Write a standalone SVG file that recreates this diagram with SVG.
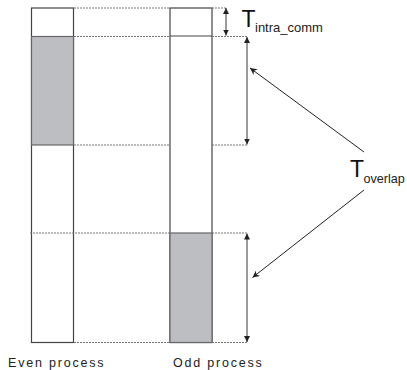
<svg xmlns="http://www.w3.org/2000/svg" width="407" height="370" viewBox="0 0 407 370">
<style>
.col{fill:#fff;stroke:#444;stroke-width:1.2}
.busy{fill:#bdbec2;stroke:#666;stroke-width:1.2}
.dot{stroke:#777;stroke-width:1;stroke-dasharray:2 1;fill:none}
.dim{stroke:#555;stroke-width:1.2;fill:none;marker-start:url(#ah);marker-end:url(#ah)}
.ptr{stroke:#222;stroke-width:1;fill:none;marker-end:url(#ah2)}
.lbl{font-family:"Liberation Sans",Arial,sans-serif;font-size:12.5px;letter-spacing:1.8px;fill:#222}
.big{font-family:"Liberation Sans",Arial,sans-serif;font-size:23px;fill:#111}
.sub{font-family:"Liberation Sans",Arial,sans-serif;font-size:13px;fill:#222}
</style>
<defs>
<marker id="ah" viewBox="0 0 10 10" refX="10" refY="5" markerWidth="6" markerHeight="6" orient="auto-start-reverse" markerUnits="userSpaceOnUse"><path d="M0,0 L10,5 L0,10 z" fill="#222"/></marker>
<marker id="ah2" viewBox="0 0 10 10" refX="10" refY="5" markerWidth="10" markerHeight="7" orient="auto" markerUnits="userSpaceOnUse"><path d="M0,0 L10,5 L0,10 L3,5 z" fill="#222"/></marker>
</defs>
<g id="even-process">
<rect class="col" x="31.5" y="8" width="42" height="334.5"/>
<rect class="busy" x="31.5" y="36.5" width="42" height="108.5"/>
</g>
<g id="odd-process">
<rect class="col" x="170" y="8" width="42" height="334.5"/>
<line x1="170" y1="36" x2="212" y2="36" stroke="#444" stroke-width="1.2"/>
<rect class="busy" x="170" y="233" width="42" height="109.5"/>
</g>
<g id="guides">
<line class="dot" x1="74" y1="8" x2="170" y2="8"/>
<line class="dot" x1="212" y1="8" x2="226" y2="8"/>
<line class="dot" x1="74" y1="36.5" x2="170" y2="36.5"/>
<line class="dot" x1="212" y1="36.5" x2="248" y2="36.5"/>
<line class="dot" x1="74" y1="145" x2="170" y2="145"/>
<line class="dot" x1="212" y1="145" x2="248" y2="145"/>
<line class="dot" x1="30" y1="233" x2="170" y2="233"/>
<line class="dot" x1="212" y1="233" x2="248" y2="233"/>
<line class="dot" x1="74" y1="342.5" x2="170" y2="342.5"/>
<line class="dot" x1="212" y1="342.5" x2="248" y2="342.5"/>
</g>
<g id="connectors">
<line class="dim" x1="226" y1="8" x2="226" y2="35.5"/>
<line class="dim" x1="247" y1="37" x2="247" y2="144.5"/>
<line class="dim" x1="247" y1="233.5" x2="247" y2="342"/>
<line class="ptr" x1="364" y1="152" x2="250" y2="68"/>
<line class="ptr" x1="364" y1="190" x2="252.5" y2="277.5"/>
</g>
<g id="t-intra-comm">
<text class="big" x="241.5" y="26.8">T<tspan class="sub" x="255" y="31.7">intra_comm</tspan></text>
</g>
<g id="t-overlap">
<text class="big" x="350" y="176.5">T<tspan class="sub" x="363.5" y="183" style="font-size:12.6px">overlap</tspan></text>
</g>
<g id="labels">
<text class="lbl" x="8" y="367">Even process</text>
<text class="lbl" x="173" y="367">Odd process</text>
</g>
</svg>
